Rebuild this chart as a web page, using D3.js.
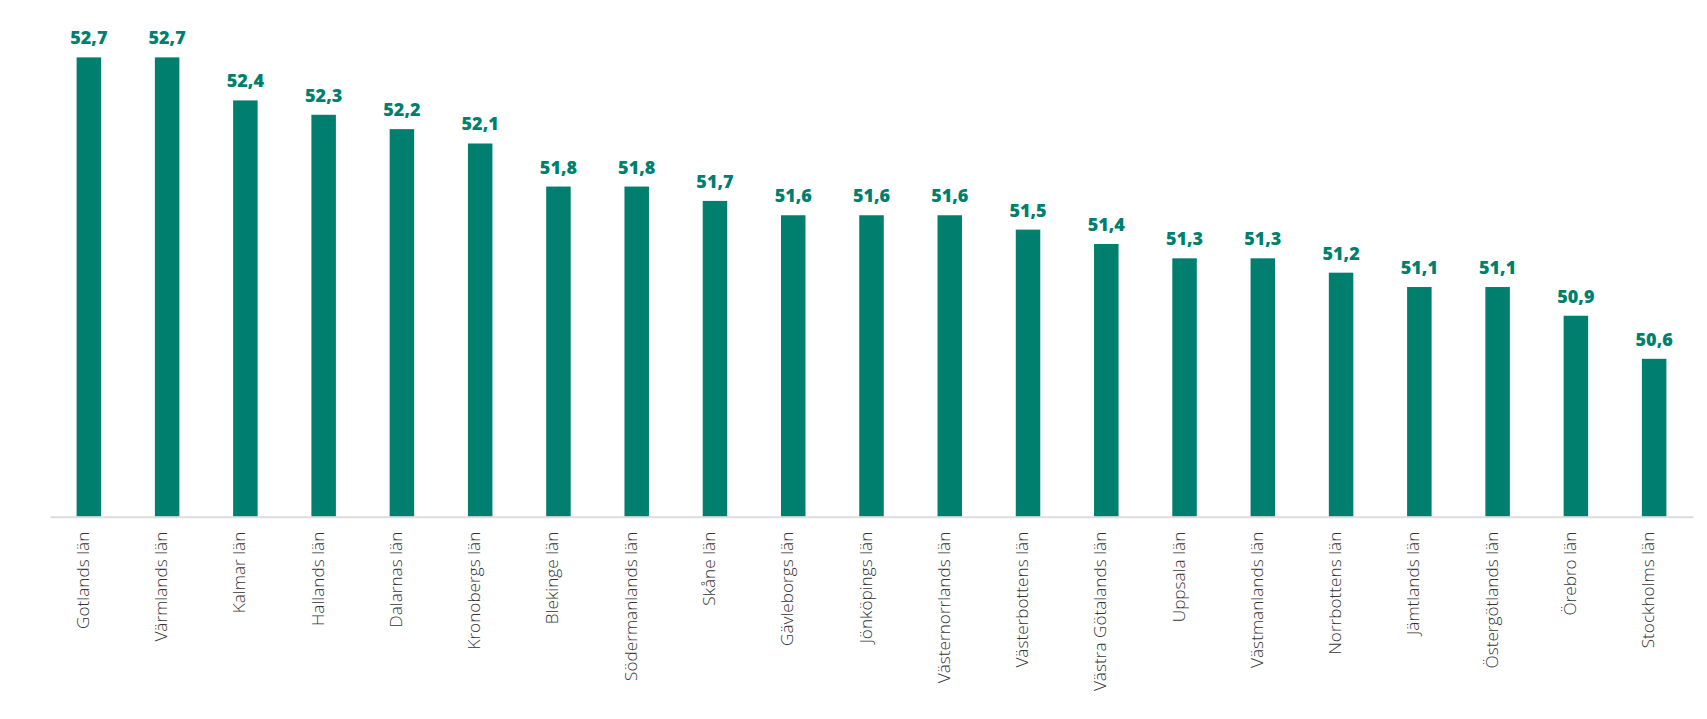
<!DOCTYPE html>
<html>
<head>
<meta charset="utf-8">
<script src="https://cdn.jsdelivr.net/npm/d3@7"></script>
<style>
  html, body { margin: 0; padding: 0; background: #fff; }
  svg { display: block; }
</style>
</head>
<body>
<svg id="chart" width="1707" height="719"></svg>
<script>
const categories = ["Gotlands län","Värmlands län","Kalmar län","Hallands län","Dalarnas län","Kronobergs län","Blekinge län","Södermanlands län","Skåne län","Gävleborgs län","Jönköpings län","Västernorrlands län","Västerbottens län","Västra Götalands län","Uppsala län","Västmanlands län","Norrbottens län","Jämtlands län","Östergötlands län","Örebro län","Stockholms län"];
const values = [52.7,52.7,52.4,52.3,52.2,52.1,51.8,51.8,51.7,51.6,51.6,51.6,51.5,51.4,51.3,51.3,51.2,51.1,51.1,50.9,50.6];
const yDomain = [49.5, 53];

const svg = d3.select("#chart");
const left = 50, right = 1693, baseY = 516.7, topY = 14.3;

const x = d3.scaleBand().domain(categories).range([left, right]).paddingInner(0.687).paddingOuter(0.34);
const y = d3.scaleLinear().domain(yDomain).range([baseY, topY]);

const teal = "#007F6E";

svg.append("g").selectAll("rect").data(values).join("rect")
  .attr("x", (d,i) => x(categories[i]))
  .attr("y", d => y(d))
  .attr("width", x.bandwidth())
  .attr("height", d => baseY - y(d))
  .attr("fill", teal);

svg.append("g").selectAll("text").data(values).join("text")
  .attr("x", (d,i) => x(categories[i]) + x.bandwidth()/2)
  .attr("y", d => y(d) - 13)
  .attr("text-anchor", "middle")
  .attr("font-family", "'Open Sans', sans-serif")
  .attr("font-weight", 800)
  .attr("font-size", 18)
  .attr("fill", teal)
  .text(d => d.toFixed(1).replace(".", ","));

const xAxis = d3.axisBottom(x).tickSize(0).tickPadding(0);
const gx = svg.append("g").attr("transform", `translate(0,${baseY})`).call(xAxis);
gx.select(".domain").attr("stroke", "#dddddd").attr("stroke-width", 2);
gx.selectAll(".tick text")
  .attr("transform", "rotate(-90)")
  .attr("x", -15)
  .attr("y", 0)
  .attr("dy", "0")
  .attr("dx", 0)
  .attr("text-anchor", "end")
  .attr("font-family", "'Open Sans', sans-serif")
  .attr("font-weight", 300)
  .attr("font-size", 17.2)
  .attr("fill", "#333333");
</script>
</body>
</html>
